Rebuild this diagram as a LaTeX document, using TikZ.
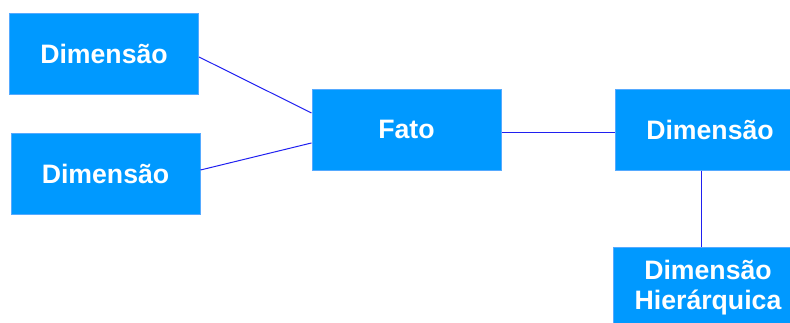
\documentclass[tikz,border=0pt]{standalone}
\usepackage{fontspec}
\setmainfont{Liberation Sans}
\definecolor{boxblue}{HTML}{0099FF}
\definecolor{edgeblue}{HTML}{55AAFF}
\definecolor{linkblue}{HTML}{2020F0}
\begin{document}
\begin{tikzpicture}[x=0.75pt,y=-0.75pt,
  entity/.style={rectangle, fill=boxblue, draw=edgeblue, line width=0.5pt, inner sep=0pt,
    minimum width=142pt, minimum height=61pt, text=white, align=center,
    font=\fontsize{20pt}{22.5pt}\selectfont\bfseries},
  link/.style={draw=linkblue, line width=0.75pt}]
\useasboundingbox (0,0) rectangle (790,322);
\clip (0,0) rectangle (790,322);
\node[entity] (d1) at (104,53.5) {Dimensão};
\node[entity] (d2) at (105.5,174) {Dimensão};
\node[entity] (fato) at (406.5,129.5) {Fato};
\node[entity] (d3) at (710,129.5) {Dimensão};
\node[entity] (dh) at (708,287.5) {Dimensão\\Hierárquica};
\draw[link] ([yshift=-2.6pt]d1.east) -- ([yshift=12.4pt]fato.west);
\draw[link] ([yshift=3pt]d2.east) -- ([yshift=-10.1pt]fato.west);
\draw[link] ([yshift=-1.9pt]fato.east) -- ([yshift=-1.9pt]d3.west);
\draw[link] ([xshift=-6.75pt]d3.south) -- ([xshift=-6.75pt]d3.south |- dh.north);
\end{tikzpicture}
\end{document}
